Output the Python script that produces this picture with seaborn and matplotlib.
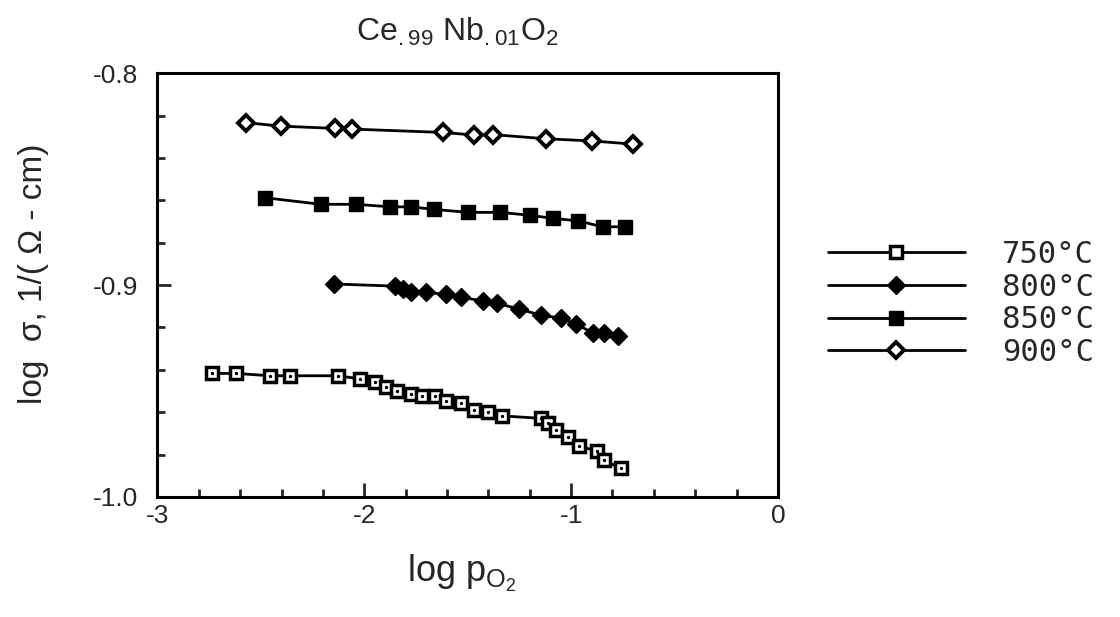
import pandas as pd
import seaborn as sns
import matplotlib.pyplot as plt
from matplotlib.ticker import MultipleLocator

# Ce.99 Nb.01 O2 : log sigma vs log pO2
x_750 = [-2.734, -2.618, -2.458, -2.361, -2.125, -2.021, -1.948, -1.893, -1.840,
         -1.772, -1.719, -1.659, -1.606, -1.534, -1.470, -1.401, -1.336,
         -1.147, -1.113, -1.075, -1.017, -0.964, -0.877, -0.843, -0.761]
y_750 = [-0.9417, -0.9417, -0.9428, -0.9428, -0.9428, -0.9443, -0.9456, -0.9480, -0.9499,
         -0.9514, -0.9522, -0.9522, -0.9546, -0.9558, -0.9590, -0.9600, -0.9617,
         -0.9629, -0.9652, -0.9684, -0.9718, -0.9759, -0.9783, -0.9825, -0.9865]

x_800 = [-2.145, -1.851, -1.815, -1.775, -1.703, -1.606, -1.534, -1.427,
         -1.358, -1.253, -1.146, -1.047, -0.977, -0.896, -0.843, -0.771]
y_800 = [-0.8995, -0.9005, -0.9019, -0.9031, -0.9034, -0.9044, -0.9058, -0.9074,
         -0.9086, -0.9113, -0.9142, -0.9157, -0.9184, -0.9225, -0.9225, -0.9239]

x_850 = [-2.480, -2.210, -2.040, -1.875, -1.775, -1.663, -1.497,
         -1.345, -1.197, -1.090, -0.967, -0.848, -0.739]
y_850 = [-0.8588, -0.8619, -0.8619, -0.8631, -0.8631, -0.8643, -0.8657,
         -0.8657, -0.8671, -0.8685, -0.8697, -0.8725, -0.8725]

x_900 = [-2.570, -2.405, -2.140, -2.060, -1.620, -1.470, -1.380, -1.120, -0.900, -0.700]
y_900 = [-0.8234, -0.8250, -0.8261, -0.8264, -0.8280, -0.8292, -0.8290, -0.8310, -0.8320, -0.8335]

labels = ["750°C", "800°C", "850°C", "900°C"]

sns.set_style("ticks")
plt.rcParams['font.family'] = ['Liberation Sans', 'DejaVu Sans']
plt.rcParams['mathtext.default'] = 'regular'

fig = plt.figure(figsize=(11.2, 6.17), dpi=100)
ax = fig.add_axes([0.1406, 0.1945, 0.554, 0.687])

# marker style per series
styles = {
    "750°C": dict(marker='s', markersize=8.5, markerfacecolor='white', markeredgecolor='black', markeredgewidth=2.5),
    "800°C": dict(marker='D', markersize=9.5, markerfacecolor='black', markeredgecolor='black', markeredgewidth=1),
    "850°C": dict(marker='s', markersize=10, markerfacecolor='black', markeredgecolor='black', markeredgewidth=1),
    "900°C": dict(marker='D', markersize=8.5, markerfacecolor='white', markeredgecolor='black', markeredgewidth=2.8),
}
series = [(x_750, y_750), (x_800, y_800), (x_850, y_850), (x_900, y_900)]

for lab, (xs, ys) in zip(labels, series):
    df = pd.DataFrame({"logp": xs, "logs": ys})
    sns.lineplot(data=df, x="logp", y="logs", ax=ax, color='black', linewidth=2,
                 estimator=None, sort=False, label=lab, **styles[lab])

# small dot inside the open squares
ax.scatter(x_750, y_750, s=2, color='black', zorder=5)

ax.set_xlim(-3, 0)
ax.set_ylim(-1.0, -0.8)
ax.xaxis.set_minor_locator(MultipleLocator(0.2))
ax.yaxis.set_minor_locator(MultipleLocator(0.02))
ax.set_xticks([-3, -2, -1, 0])
ax.set_xticklabels(["-3", "-2", "-1", "0"])
ax.set_yticks([-1.0, -0.9, -0.8])
ax.set_yticklabels(["-1.0", "-0.9", "-0.8"])
ax.tick_params(axis='both', which='major', direction='in', length=10, width=2,
               labelsize=19, top=False, right=False)
ax.tick_params(axis='both', which='minor', direction='in', length=6, width=2,
               top=False, right=False)
ax.tick_params(axis='x', which='major', pad=5)
ax.tick_params(axis='y', which='major', pad=14)
for sp in ax.spines.values():
    sp.set_linewidth(2.2)
    sp.set_color('black')

ax.set_xlabel("")
ax.set_ylabel("")
fig.text(0.4125, 0.071, r"log p$_{O_2}$", fontsize=26, ha='center', va='center')
fig.text(0.03, 0.557, "log  σ, 1/( Ω - cm)", fontsize=24, rotation=90,
         ha='center', va='center')
fig.text(0.408, 0.948, r"Ce$_{.99}$ Nb$_{.01}$O$_2$", fontsize=23, ha='center', va='center')

handles, labs = ax.get_legend_handles_labels()
leg = ax.legend(handles, labs, loc='center left', bbox_to_anchor=(0.739, 0.508),
                bbox_transform=fig.transFigure, frameon=False, borderpad=0,
                borderaxespad=0, handlelength=4.5, handletextpad=1.2,
                labelspacing=0.12, numpoints=1,
                prop={'family': 'DejaVu Sans Mono', 'size': 22})

fig.savefig("out.png", dpi=100)
